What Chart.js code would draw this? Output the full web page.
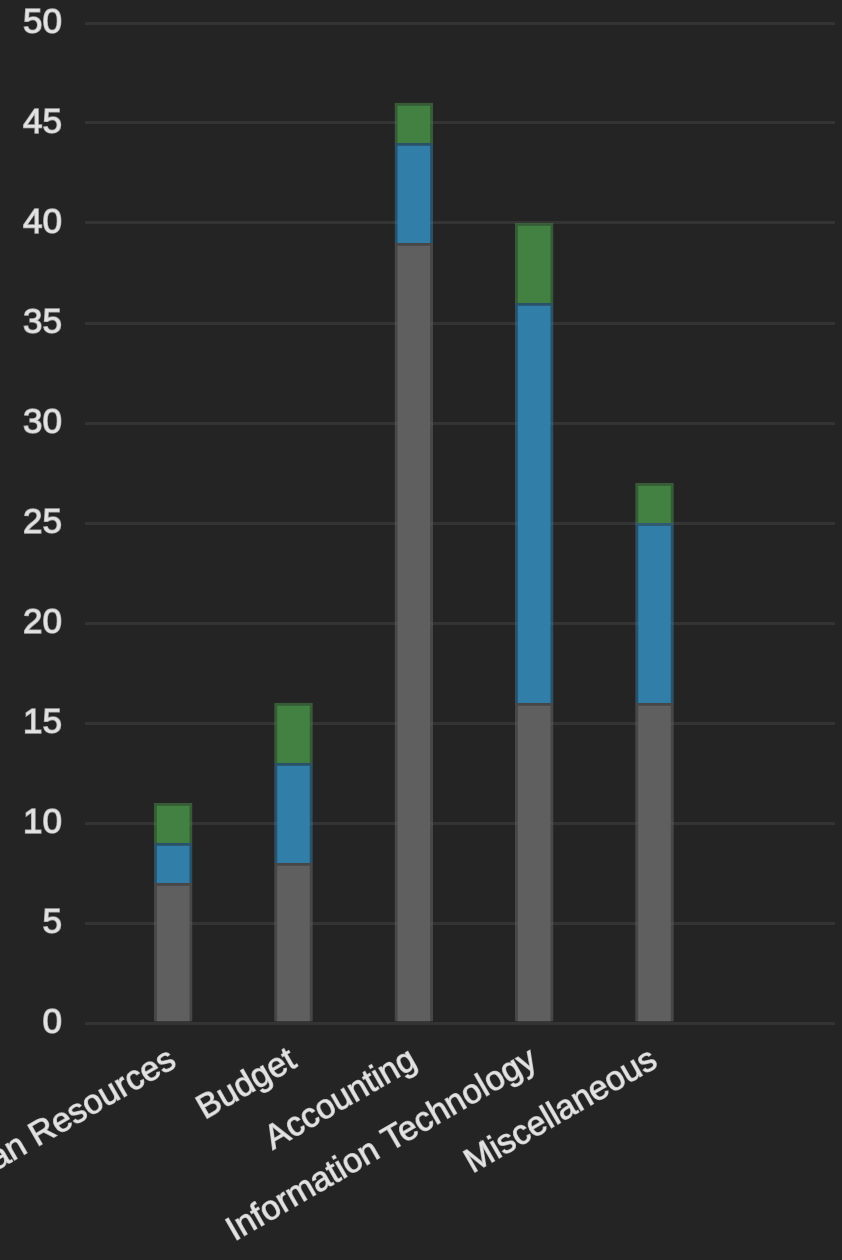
<!DOCTYPE html>
<html>
<head>
<meta charset="utf-8">
<script src="https://cdn.jsdelivr.net/npm/chart.js@4"></script>
<style>
  html, body { margin: 0; padding: 0; background: #242424; }
  #wrap { width: 842px; height: 1260px; position: relative; }
</style>
</head>
<body>
<div id="wrap"><canvas id="chart"></canvas></div>
<script>
// データ
const categories = ['Human Resources', 'Budget', 'Accounting', 'Information Technology', 'Miscellaneous', ''];
const grayValues = [7, 8, 39, 16, 16, null];
const blueValues = [2, 5, 5, 20, 9, null];
const greenValues = [2, 3, 2, 4, 2, null];
const yTicks = [0, 5, 10, 15, 20, 25, 30, 35, 40, 45, 50];

const textColor = '#e2e2e2';
const gridColor = '#343434';

const ctx = document.getElementById('chart');
const chart = new Chart(ctx, {
    type: 'bar',
    data: {
        labels: categories,
        datasets: [{
            label: 'Gray',
            data: grayValues,
            backgroundColor: 'rgb(95, 95, 95)',
            borderColor: 'rgba(95, 95, 95, 0.6)',
            borderWidth: 3,
            barThickness: 38,
        }, {
            label: 'Blue',
            data: blueValues,
            backgroundColor: 'rgb(49, 126, 169)',
            borderColor: 'rgba(49, 126, 169, 0.5)',
            borderWidth: 3,
            barThickness: 38,
        }, {
            label: 'Green',
            data: greenValues,
            backgroundColor: 'rgb(66, 129, 66)',
            borderColor: 'rgba(66, 129, 66, 0.6)',
            borderWidth: 3,
            barThickness: 38,
        }]
    },
    options: {
        responsive: true,
        maintainAspectRatio: false,
        animation: false,
        layout: {
            padding: { left: 0, right: 7, top: 23, bottom: 0 }
        },
        plugins: {
            legend: { display: false },
            tooltip: { enabled: false },
        },
        scales: {
            x: {
                stacked: true,
                grid: { display: false, drawTicks: false },
                border: { display: false },
                ticks: {
                    color: textColor,
                    font: { family: 'Liberation Sans, Arial', size: 34 },
                    textStrokeColor: 'rgba(226, 226, 226, 0.7)',
                    textStrokeWidth: 1.2,
                    minRotation: 30,
                    maxRotation: 30,
                    autoSkip: false,
                    padding: 17,
                },
                afterFit: (scale) => {
                    // 左端のラベルは画面外へはみ出させる
                    scale.paddingLeft = 0;
                    scale.paddingRight = 0;
                    scale.height = 237;
                },
            },
            y: {
                stacked: true,
                min: 0,
                max: 50,
                grid: { color: gridColor, lineWidth: 3, tickLength: 28 },
                border: { display: false },
                afterBuildTicks: (scale) => {
                    scale.ticks = yTicks.map(v => ({ value: v }));
                },
                ticks: {
                    color: textColor,
                    font: { family: 'Liberation Sans, Arial', size: 35 },
                    textStrokeColor: 'rgba(226, 226, 226, 0.7)',
                    textStrokeWidth: 1.5,
                    padding: 23,
                },
                afterFit: (scale) => {
                    scale.width = 113;
                    scale.paddingTop = 0;
                    scale.paddingBottom = 0;
                },
            }
        }
    }
});
</script>
</body>
</html>
